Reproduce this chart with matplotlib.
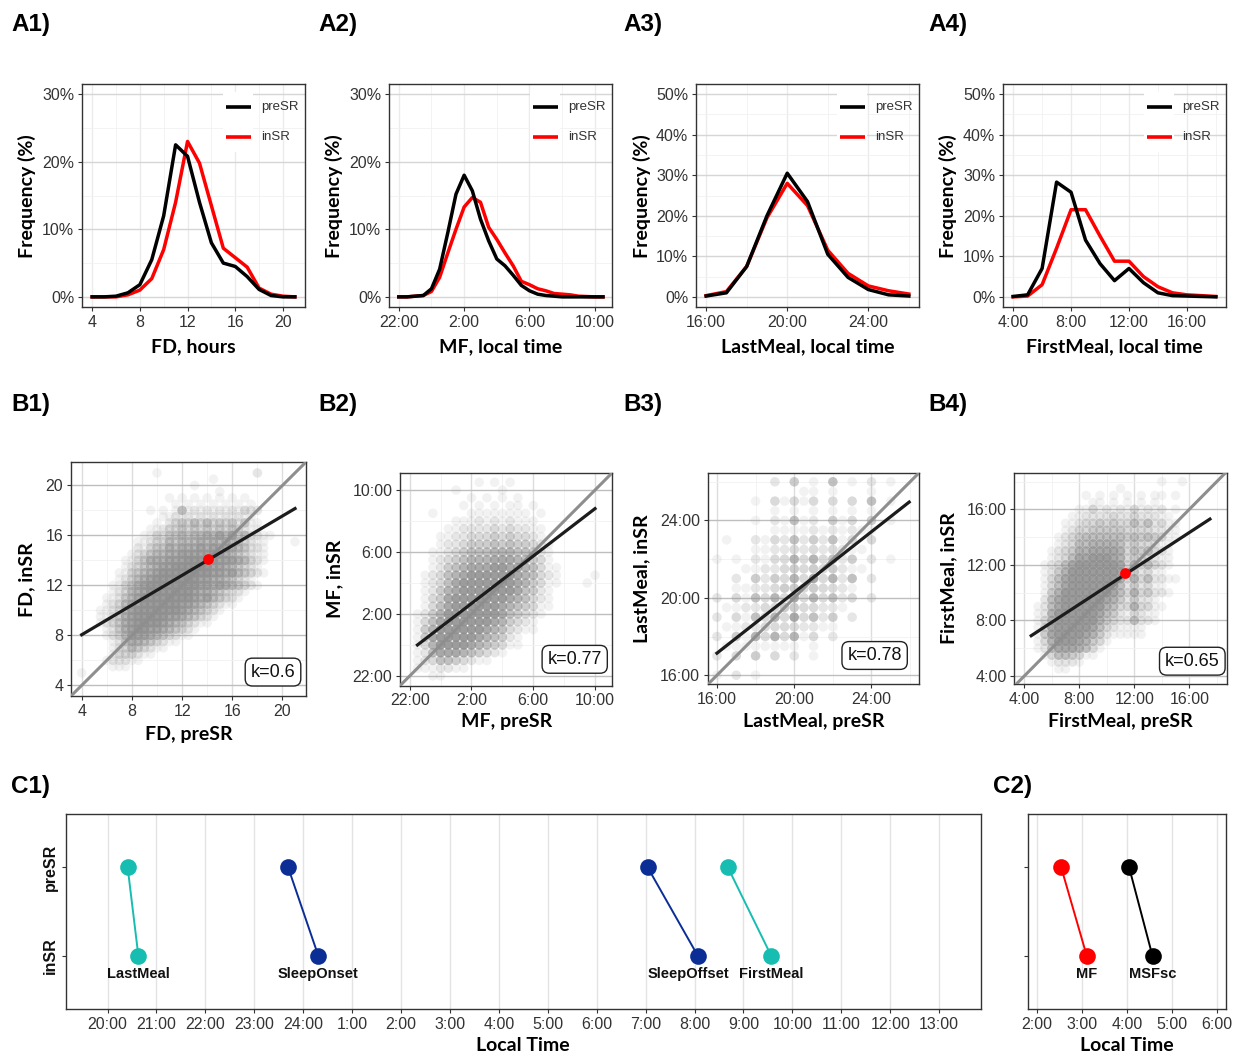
#!/usr/bin/env python3
"""Meal timing before (preSR) and during (inSR): distributions, paired scatter, shift plot"""

import matplotlib
matplotlib.use("Agg")
import matplotlib.pyplot as plt
import matplotlib.patches as mpatches
import numpy as np

plt.rcParams["font.family"] = ["Liberation Sans", "DejaVu Sans"]
TITLE_FONT = ["Lato", "DejaVu Sans"]

W, H = 1239, 1054

# ── A: frequency distributions (%) ───────────────────────────
FD_X   = list(range(4, 22))
FD_PRE = [0, 0, 0.1, 0.6, 1.8, 5.5, 12, 22.5, 20.8, 14, 8, 5, 4.5, 3, 1.1, 0.2, 0, 0]
FD_IN  = [0, 0, 0, 0.3, 1, 2.7, 7, 14, 23, 19.8, 13.5, 7.2, 5.8, 4.4, 1.3, 0.4, 0.1, 0]

MF_X   = [22, 22.5, 23, 23.5, 24, 24.5, 25, 25.5, 26, 26.5, 27, 27.5, 28,
          28.5, 29, 29.5, 30, 30.5, 31, 31.5, 32, 32.5, 33, 33.5, 34, 34.5]
MF_PRE = [0, 0, 0.1, 0.2, 1.2, 4.1, 9.5, 15.2, 18, 15.7, 11.5, 8.3, 5.6,
          4.6, 3.2, 1.7, 0.9, 0.4, 0.2, 0.1, 0, 0, 0, 0, 0, 0]
MF_IN  = [0, 0, 0.1, 0.2, 0.8, 2.9, 6.5, 10, 13.3, 14.7, 14, 10.3, 8.5,
          6.5, 4.6, 2.3, 1.8, 1.2, 0.9, 0.5, 0.4, 0.3, 0.1, 0.05, 0, 0]

LM_X   = list(range(16, 27))
LM_PRE = [0.2, 1, 7.5, 20, 30.5, 23.5, 10.5, 4.8, 1.8, 0.5, 0.2]
LM_IN  = [0.3, 1.3, 7.5, 19.5, 28, 22.5, 11.5, 5.8, 2.7, 1.5, 0.7]

FM_X   = list(range(4, 19))
FM_PRE = [0.1, 0.5, 7, 28.3, 25.8, 14, 8.2, 4, 7, 3.5, 1, 0.3, 0.2, 0.1, 0]
FM_IN  = [0, 0.2, 3, 12, 21.5, 21.5, 15, 8.8, 8.8, 5, 2.5, 1, 0.5, 0.3, 0.1]

# ── B: point density, 0.5 h cells, top row first ──
FD_GRID = [  # x 4..21, y 21..4
    "00000 00000 00100 00000 00000 00020 00000",
    "00000 00000 00000 00000 01000 00000 00000",
    "00000 00000 00000 00010 00000 00000 00000",
    "00000 00000 00000 00000 00100 00000 00000",
    "00000 00000 00001 01010 10101 01000 00000",
    "00000 00000 00000 10101 01010 10100 00000",
    "00000 00000 01010 15121 21212 13220 00000",
    "00000 00000 00011 21212 12121 21100 00000",
    "00000 00000 00102 34353 53434 24110 00000",
    "00000 00000 01123 34343 43434 32110 00000",
    "00000 00000 11324 45455 65757 45221 10000",
    "00000 00001 12335 45556 56565 43211 00001",
    "00000 00002 13446 56667 67676 54221 00000",
    "00000 00012 34556 67777 77765 43211 00000",
    "00000 00113 46667 77888 88777 65321 00000",
    "00000 00123 45677 88888 87765 43210 00000",
    "00000 01134 56788 88888 87767 54321 00000",
    "00000 01235 67888 88887 76654 32100 00000",
    "00000 11346 78888 88887 76765 43210 00000",
    "00000 12356 78888 88876 65432 21000 00000",
    "00001 12457 88888 88876 75432 10000 00000",
    "00001 23567 88888 87765 43211 00000 00000",
    "00011 23578 88888 87654 32100 00000 00000",
    "00011 24678 88887 76543 21000 00000 00000",
    "00012 34678 88876 54321 10000 00000 00000",
    "00001 24678 87765 43210 00000 00000 00000",
    "00001 23577 76543 21100 00000 00000 00000",
    "00000 12466 54321 10000 00000 00000 00000",
    "00000 12354 32110 00000 00000 00000 00000",
    "00000 13332 11000 00000 00000 00000 00000",
    "00001 22211 00000 00000 00000 00000 00000",
    "00000 11100 00000 00000 00000 00000 00000",
    "10000 00000 00000 00000 00000 00000 00000",
    "00000 00000 00000 00000 00000 00000 00000",
    "00000 00000 00000 00000 00000 00000 00000",
]
MF_GRID = [  # x 22..34.5, y 34.5..22 (hours past midnight + 24)
    "00000 00001 01010 00000 00000 0",
    "00000 01000 00100 00000 00000 0",
    "00000 00010 10101 00000 00000 0",
    "00000 00101 01011 01000 00000 0",
    "00010 00011 11111 10100 00000 0",
    "00000 01112 12121 11000 00000 0",
    "00000 11222 23232 21100 00000 0",
    "00001 12233 34343 32100 00000 0",
    "00001 22344 45454 43210 00000 0",
    "00011 23455 56665 54210 00000 0",
    "00012 34566 67776 54310 00000 0",
    "00012 45677 78877 65311 00000 0",
    "00123 56788 88887 65321 00001 0",
    "00123 57888 88887 64311 00010 0",
    "00124 67888 88887 54210 00000 0",
    "00134 78888 88876 53210 00000 0",
    "00135 78888 88765 43110 00000 0",
    "01246 88888 88754 32100 00000 0",
    "01357 88888 87643 21000 00000 0",
    "01468 88888 76532 11000 00000 0",
    "01478 88887 65421 00000 00000 0",
    "01368 88876 54311 00000 00000 0",
    "01257 77654 32100 00000 00000 0",
    "01235 54321 10000 00000 00000 0",
    "01112 21100 00000 00000 00000 0",
    "00011 00000 00000 00000 00000 0",
]
LM_GRID = [  # x 16..26, y 26..16
    "00000 02040 10501 02010 0",
    "00000 00001 10100 01000 0",
    "00001 03131 30303 05010 0",
    "00000 01010 10101 01000 0",
    "00001 02151 20413 04010 0",
    "00000 01111 21212 11000 0",
    "01002 13252 42513 03000 0",
    "00001 12232 32321 10000 0",
    "10102 13363 63524 02010 0",
    "00011 22343 43421 10000 0",
    "00204 24363 73625 02000 0",
    "00112 23443 43321 00000 0",
    "20315 36373 63523 02000 0",
    "01122 33443 32210 00000 0",
    "20315 36373 52402 00000 0",
    "01122 33332 21100 00000 0",
    "20416 36361 30200 00000 0",
    "01111 11110 10000 00000 0",
    "20304 03020 10000 00000 0",
    "00000 00000 00000 00000 0",
    "10201 00000 00000 00000 0",
]
FM_GRID = [  # x 4..18, y 18..4
    "00000 00000 00000 00000 10010 0000",
    "00000 00000 00001 00000 00000 0000",
    "00000 00001 01010 10101 10100 0000",
    "00000 00000 11010 10101 00000 0000",
    "00000 00011 31212 13121 20100 0000",
    "00000 00112 22232 23222 11000 0000",
    "00000 01123 34343 35352 31100 0000",
    "00000 01233 44444 33332 21100 0000",
    "00000 12345 55555 45454 31100 0000",
    "00000 12355 66665 34332 11000 0000",
    "00001 23466 77776 35453 21000 0000",
    "00001 23577 88876 34332 11000 0000",
    "00012 35788 88887 36353 21000 0000",
    "00012 46888 88887 24231 10000 0000",
    "00013 57888 88886 36352 21100 0000",
    "00013 57888 88875 24231 10000 0000",
    "00014 68888 88875 36342 21000 0000",
    "00025 78888 88764 24221 00000 0000",
    "00125 78888 88653 36331 10000 0000",
    "00126 88888 87542 13211 00000 0000",
    "00136 88888 86432 25221 00000 0000",
    "00137 88888 75321 11100 00000 0000",
    "00147 88887 64211 11100 00000 0000",
    "00136 88876 43100 00000 00000 0000",
    "00125 77765 31000 00000 00000 0000",
    "00013 55431 10000 00000 00000 0000",
    "00001 22210 00000 00000 00000 0000",
    "00000 11000 00000 00000 00000 0000",
    "00000 00000 00000 00000 00000 0000",
]

# regression line end points (preSR, inSR), slope k, mean point
REG_X = [[4, 21], [22.5, 34], [16, 25.95], [4.5, 17.5]]
REG_Y = [[8.05, 18.15], [24.0, 32.8], [17.14, 24.95], [6.9, 15.3]]
K_VAL = ["k=0.6", "k=0.77", "k=0.78", "k=0.65"]
MEAN_PT = [(14.05, 14.08), None, None, (11.3, 11.4)]

# ── C: mean timing shifts, local time (h) ───────────────────
C1_NAMES = ["LastMeal", "SleepOnset", "SleepOffset", "FirstMeal"]
C1_PRE   = [20.41, 23.69, 31.04, 32.68]
C1_IN    = [20.63, 24.31, 32.07, 33.57]
C1_COLS  = ["#17BDB0", "#0A2E96", "#0A2E96", "#17BDB0"]
C1_NUDGE = [0, 0, -7, 0]   # label nudge, points
C1_TICKS = list(range(20, 38))
C1_TLAB  = ["20:00", "21:00", "22:00", "23:00", "24:00", "1:00", "2:00", "3:00", "4:00",
            "5:00", "6:00", "7:00", "8:00", "9:00", "10:00", "11:00", "12:00", "13:00"]

C2_NAMES = ["MF", "MSFsc"]
C2_PRE   = [2.54, 4.05]
C2_IN    = [3.11, 4.57]
C2_COLS  = ["#FF0000", "#000000"]
C2_NUDGE = [0, 0]
C2_TICKS = [2, 3, 4, 5, 6]
C2_TLAB  = ["2:00", "3:00", "4:00", "5:00", "6:00"]

# ── helpers ────────────────────────────────────────────────
fig = plt.figure(figsize=(W / 100, H / 100), dpi=100, facecolor="white")


def axes_px(l, t, r, b):
    return fig.add_axes([l / W, 1 - b / H, (r - l) / W, (b - t) / H])


def ftext(x, y, s, **kw):
    fig.text(x / W, 1 - y / H, s, **kw)


def style(ax, xlim, ylim, xt, xtl, yt, ytl, xmin, ymin, hgrid, vgrid):
    ax.set_xlim(xlim)
    ax.set_ylim(ylim)
    ax.set_xticks(xt)
    ax.set_xticklabels(xtl)
    ax.set_yticks(yt)
    ax.set_yticklabels(ytl)
    ax.set_xticks(xmin, minor=True)
    ax.set_yticks(ymin, minor=True)
    ax.tick_params(which="minor", length=0)
    ax.tick_params(which="major", length=3, width=0.8, color="#333333",
                   labelsize=11.5, labelcolor="#333333", pad=2.5)
    ax.grid(True, which="major", axis="y", color=hgrid, lw=1.0)
    ax.grid(True, which="major", axis="x", color=vgrid, lw=1.0)
    ax.grid(True, which="minor", color="#F1F1F1", lw=0.6)
    ax.set_axisbelow(True)
    for sp in ax.spines.values():
        sp.set_color("#333333")
        sp.set_linewidth(1.0)


def grid_points(rows, x0, ytop, step=0.5):
    xs, ys, lv = [], [], []
    for i, row in enumerate(rows):
        row = row.replace(" ", "")
        for j, c in enumerate(row):
            if c != "0":
                xs.append(x0 + j * step)
                ys.append(ytop - i * step)
                lv.append(int(c))
    return np.array(xs), np.array(ys), np.array(lv)


# ── row A ──────────────────────────────────────────────────
A_BOX = [(82, 84, 305, 307), (389, 84, 612, 307), (696, 84, 919, 307), (1003, 84, 1226, 307)]
A_DATA = [(FD_X, FD_PRE, FD_IN), (MF_X, MF_PRE, MF_IN), (LM_X, LM_PRE, LM_IN), (FM_X, FM_PRE, FM_IN)]
A_XLIM = [(3.15, 21.85), (21.4, 35.05), (15.5, 26.5), (3.3, 18.7)]
A_XT = [([4, 8, 12, 16, 20], ["4", "8", "12", "16", "20"], [6, 10, 14, 18]),
        ([22, 26, 30, 34], ["22:00", "2:00", "6:00", "10:00"], [24, 28, 32]),
        ([16, 20, 24], ["16:00", "20:00", "24:00"], [18, 22, 26]),
        ([4, 8, 12, 16], ["4:00", "8:00", "12:00", "16:00"], [6, 10, 14, 18])]
A_YMAX = [30, 30, 50, 50]
A_XLAB = ["FD, hours", "MF, local time", "LastMeal, local time", "FirstMeal, local time"]
A_YLAB_X = [27, 334, 642, 948]

for k in range(4):
    ax = axes_px(*A_BOX[k])
    xs, pre, ins = A_DATA[k]
    ax.plot(xs, ins, color="#FF0000", lw=2.5, zorder=3)
    ax.plot(xs, pre, color="#000000", lw=2.5, zorder=4)
    ymax = A_YMAX[k]
    yt = list(range(0, ymax + 1, 10))
    style(ax, A_XLIM[k], (-0.05 * ymax, 1.05 * ymax), A_XT[k][0], A_XT[k][1],
          yt, [f"{v}%" for v in yt], A_XT[k][2], list(range(5, ymax, 10)),
          "#D6D6D6", "#EBEBEB")
    # legend with white keys
    for j, (lab, col) in enumerate([("preSR", "#000000"), ("inSR", "#FF0000")]):
        yc = 0.898 - j * 0.137
        ax.add_patch(mpatches.Rectangle((0.631, yc - 0.068), 0.137, 0.136,
                                        transform=ax.transAxes, fc="white",
                                        ec="none", zorder=1.5))
        ax.plot([0.646, 0.758], [yc, yc], transform=ax.transAxes, color=col,
                lw=2.6, solid_capstyle="butt", zorder=5)
        ax.text(0.803, yc, lab, transform=ax.transAxes, fontsize=9.5,
                va="center", color="#333333")
    ax.set_xlim(A_XLIM[k])
    ftext((A_BOX[k][0] + A_BOX[k][2]) / 2, 352, A_XLAB[k], ha="center",
          va="baseline", fontsize=14, fontweight="bold", family=TITLE_FONT)
    ftext(A_YLAB_X[k], 196, "Frequency (%)", ha="center", va="center",
          rotation=90, fontsize=14, fontweight="bold", family=TITLE_FONT)

# ── row B ──────────────────────────────────────────────────
B_BOX = [(71, 462.3, 305.7, 696), (400, 472.7, 612.3, 685.7),
         (707.7, 472.7, 919, 684.3), (1014.3, 472.7, 1226.7, 684.3)]
B_GRID = [(FD_GRID, 4, 21), (MF_GRID, 22, 34.5), (LM_GRID, 16, 26), (FM_GRID, 4, 18)]
B_XLIM = [(3.15, 21.85), (21.37, 35.12), (15.52, 26.46), (3.27, 18.72)]
B_YLIM = [(3.15, 21.85), (21.37, 35.12), (15.53, 26.47), (3.4, 18.64)]
B_XLAB = ["FD, preSR", "MF, preSR", "LastMeal, preSR", "FirstMeal, preSR"]
B_YLAB = ["FD, inSR", "MF, inSR", "LastMeal, inSR", "FirstMeal, inSR"]
B_YLAB_X = [27, 334.7, 641.3, 949.2]
B_XLAB_Y = [740, 727.5, 727.5, 727.5]
B_KPOS = [(0.956, 0.066), (0.951, 0.084), (0.919, 0.096), (0.967, 0.069)]

for k in range(4):
    ax = axes_px(*B_BOX[k])
    rows, x0, ytop = B_GRID[k]
    px, py, lv = grid_points(rows, x0, ytop)
    cols = np.zeros((len(lv), 4))
    cols[:, :3] = 0.56
    cols[:, 3] = np.clip(lv * 0.11, 0, 1)
    ax.scatter(px, py, s=47, c=cols, linewidths=0, zorder=2)
    ax.axline((0, 0), slope=1, color="#8E8E8E", lw=2.2, zorder=3)
    ax.plot(REG_X[k], REG_Y[k], color="#1C1C1C", lw=2.3, zorder=4)
    if MEAN_PT[k] is not None:
        ax.scatter([MEAN_PT[k][0]], [MEAN_PT[k][1]], s=60, color="#FF0000",
                   linewidths=0, zorder=5)
    xt, xtl, xm = A_XT[k]
    style(ax, B_XLIM[k], B_YLIM[k], xt, xtl, xt, xtl, xm, xm, "#BEBEBE", "#DDDDDD")
    ax.text(B_KPOS[k][0], B_KPOS[k][1], K_VAL[k], transform=ax.transAxes,
            ha="right", va="bottom", fontsize=13, color="#111111", zorder=6,
            bbox=dict(boxstyle="round,pad=0.3,rounding_size=0.4", fc="white",
                      ec="#222222", lw=1.0))
    ftext((B_BOX[k][0] + B_BOX[k][2]) / 2, B_XLAB_Y[k], B_XLAB[k], ha="center",
          va="baseline", fontsize=14, fontweight="bold", family=TITLE_FONT)
    ftext(B_YLAB_X[k], (B_BOX[k][1] + B_BOX[k][3]) / 2, B_YLAB[k], ha="center",
          va="center", rotation=90, fontsize=14, fontweight="bold", family=TITLE_FONT)

# ── row C ──────────────────────────────────────────────────
def shift_panel(ax, names, pre, ins, cols, nudge, ticks, tlab, xlim, ylabels):
    for n, p, q, c, dx in zip(names, pre, ins, cols, nudge):
        ax.plot([p, q], [2, 1], color=c, lw=1.4, zorder=2)
        ax.plot([p, q], [2, 1], "o", color=c, ms=12, mec="none", zorder=3)
        ax.annotate(n, (q, 1), xytext=(dx, -13), textcoords="offset points",
                    ha="center", va="center", fontsize=10.5, fontweight="bold",
                    color="#111111")
    ax.set_xlim(xlim)
    ax.set_ylim(0.4, 2.6)
    ax.set_xticks(ticks)
    ax.set_xticklabels(tlab)
    ax.set_yticks([1, 2])
    if ylabels:
        ax.set_yticklabels(["inSR", "preSR"], rotation=90, va="center",
                           fontsize=13, fontweight="bold", color="#111111")
    else:
        ax.set_yticklabels([])
    ax.tick_params(length=3, width=0.8, color="#333333", labelsize=11.5,
                   labelcolor="#333333", pad=2.5)
    ax.tick_params(axis="y", labelcolor="#111111", pad=3)
    ax.grid(True, axis="x", color="#E3E3E3", lw=1.0)
    ax.set_axisbelow(True)
    for sp in ax.spines.values():
        sp.set_color("#333333")
        sp.set_linewidth(1.0)


c1 = axes_px(66, 814, 980.7, 1009.3)
shift_panel(c1, C1_NAMES, C1_PRE, C1_IN, C1_COLS, C1_NUDGE, C1_TICKS, C1_TLAB,
            (19.15, 37.85), True)
c2 = axes_px(1028.3, 814, 1226.3, 1009.3)
shift_panel(c2, C2_NAMES, C2_PRE, C2_IN, C2_COLS, C2_NUDGE, C2_TICKS, C2_TLAB,
            (1.81, 6.21), False)
ftext(523, 1051, "Local Time", ha="center", va="baseline", fontsize=14,
      fontweight="bold", family=TITLE_FONT)
ftext(1127, 1051, "Local Time", ha="center", va="baseline", fontsize=14,
      fontweight="bold", family=TITLE_FONT)

# ── panel letters ──────────────────────────────────────────
for lab, x, y in [("A1)", 11, 25), ("A2)", 318, 25), ("A3)", 623, 25), ("A4)", 928, 25),
                  ("B1)", 11, 405), ("B2)", 318, 405), ("B3)", 623, 405), ("B4)", 928, 405),
                  ("C1)", 11, 787), ("C2)", 993, 787)]:
    ftext(x, y, lab, ha="left", va="center", fontsize=17.5, fontweight="bold")

fig.savefig("out.png", dpi=100, facecolor="white")
